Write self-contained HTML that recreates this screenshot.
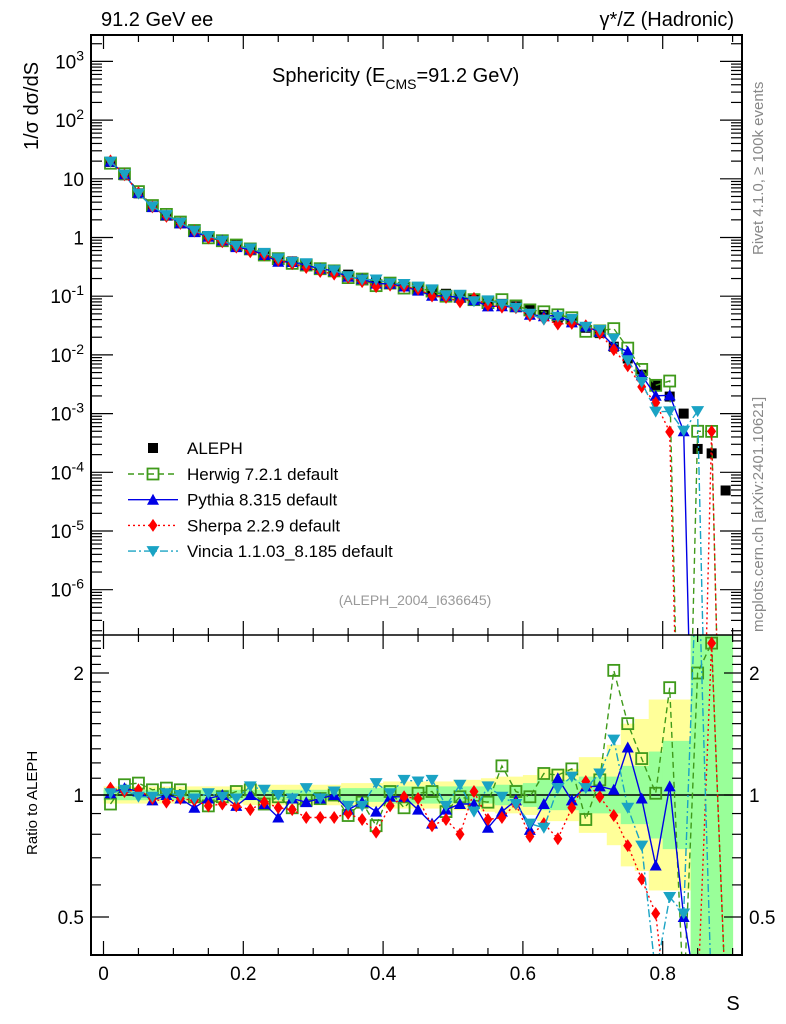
<!DOCTYPE html>
<html>
<head>
<meta charset="utf-8">
<style>
html,body{margin:0;padding:0;background:#fff;}
svg{display:block;font-family:"Liberation Sans",Arial,sans-serif;}
</style>
</head>
<body>
<svg id="chart" width="786" height="1024" viewBox="0 0 786 1024" xmlns="http://www.w3.org/2000/svg">
  <defs>
    <clipPath id="clipMain"><rect x="91" y="35" width="651" height="600"/></clipPath>
    <clipPath id="clipRatio"><rect x="91" y="635" width="651" height="320"/></clipPath>
  </defs>
  <rect x="0" y="0" width="786" height="1024" fill="#fff"/>
  <g id="bands" clip-path="url(#clipRatio)"></g>
  <g id="ratioMarks" clip-path="url(#clipRatio)"></g>
  <g id="mainMarks" clip-path="url(#clipMain)"></g>
  <g id="axes"></g>

  <text x="101" y="26" font-size="20">91.2 GeV ee</text>
  <text x="734" y="26" font-size="20" text-anchor="end">γ*/Z (Hadronic)</text>
  <text x="272" y="82" font-size="20">Sphericity (E<tspan font-size="14" dy="7">CMS</tspan><tspan dy="-7">=91.2 GeV)</tspan></text>
  <text transform="translate(38,150) rotate(-90)" font-size="20">1/σ  dσ/dS</text>
  <text transform="translate(37,855) rotate(-90)" font-size="15">Ratio to ALEPH</text>
  <text x="733" y="1010" font-size="20" text-anchor="middle">S</text>
  <text transform="translate(763,255) rotate(-90)" font-size="15" fill="#888">Rivet 4.1.0, ≥ 100k events</text>
  <text transform="translate(763,632) rotate(-90)" font-size="15" fill="#888">mcplots.cern.ch [arXiv:2401.10621]</text>
  <text x="415" y="605" font-size="14" fill="#999" text-anchor="middle">(ALEPH_2004_I636645)</text>

  <g id="legend"></g>
</svg>
<script>
const bins = [0.01,0.03,0.05,0.07,0.09,0.11,0.13,0.15,0.17,0.19,0.21,0.23,0.25,0.27,0.29,0.31,0.33,0.35,0.37,0.39,0.41,0.43,0.45,0.47,0.49,0.51,0.53,0.55,0.57,0.59,0.61,0.63,0.65,0.67,0.69,0.71,0.73,0.75,0.77,0.79,0.81,0.83,0.85,0.87,0.89];
const alephValues = [19.4,11.5,5.65,3.4,2.38,1.78,1.33,1.05,0.89,0.73,0.62,0.53,0.44,0.39,0.35,0.30,0.27,0.233,0.204,0.18,0.164,0.148,0.135,0.12,0.11,0.1,0.09,0.081,0.074,0.067,0.059,0.048,0.043,0.037,0.029,0.0235,0.0138,0.0087,0.0046,0.003,0.00195,0.001,0.00025,0.00021,0.000049];
const herwigRatio = [0.95,1.06,1.07,1.03,1.04,1.03,0.99,0.94,0.99,1.02,1.03,0.95,0.99,0.93,0.97,0.98,1.0,0.89,0.96,0.84,1.02,0.93,1.01,1.02,0.91,0.99,0.97,0.96,1.18,1.02,0.99,1.13,1.12,1.16,0.87,1.09,2.03,1.5,1.23,1.01,1.84,0,2.0,2.37,0];
const pythiaRatio = [1.01,1.04,1.02,0.97,1.0,0.98,0.93,0.98,1.0,0.94,1.0,0.95,0.88,0.98,0.96,0.98,1.0,0.92,0.96,0.91,0.99,0.99,0.92,0.85,0.92,0.95,0.95,0.83,0.91,0.97,0.82,0.95,1.1,0.97,1.05,1.05,1.03,1.31,0.98,0.67,1.05,0.5,0,0,0];
const sherpaRatio = [1.04,1.02,1.03,0.98,0.96,0.98,0.97,0.94,0.95,0.94,0.92,0.96,0.93,0.92,0.88,0.88,0.88,0.9,0.87,0.81,0.94,0.99,0.98,0.84,0.87,0.8,1.02,0.87,0.88,0.95,0.79,0.85,0.78,0.93,1.08,0.99,0.89,0.75,0.62,0.51,0.25,0,0,2.37,0];
const vinciaRatio = [1.01,1.03,0.99,0.99,1.01,1.0,0.98,1.01,0.99,0.98,1.05,1.03,1.0,0.98,1.04,0.98,1.02,0.94,0.94,1.07,1.01,1.09,1.08,1.09,0.94,1.06,0.91,1.05,0.99,0.95,0.85,0.83,1.04,1.11,1.04,1.13,1.37,0.93,0.75,0.36,0.56,0.51,4.4,0,0];
const yellowBand = [1.05,1.05,1.05,1.05,1.05,1.05,1.05,1.05,1.05,1.05,1.06,1.06,1.06,1.06,1.06,1.06,1.06,1.07,1.07,1.07,1.08,1.08,1.08,1.08,1.08,1.09,1.09,1.1,1.11,1.11,1.12,1.16,1.16,1.16,1.24,1.24,1.33,1.5,1.54,1.72,1.72,1.72,4,4,4];
const greenBand = [1.03,1.03,1.03,1.03,1.03,1.03,1.03,1.03,1.03,1.03,1.03,1.03,1.03,1.03,1.03,1.03,1.03,1.04,1.04,1.04,1.05,1.05,1.05,1.05,1.05,1.05,1.05,1.05,1.06,1.06,1.07,1.09,1.09,1.09,1.11,1.11,1.11,1.18,1.18,1.28,1.36,1.36,4,4,4];
const mainTickLabels = ["10^3","10^2","10","1","10^-1","10^-2","10^-3","10^-4","10^-5","10^-6"];
const xTickLabels = ["0","0.2","0.4","0.6","0.8"];
const ratioTickLabels = ["0.5","1","2"];

const NS="http://www.w3.org/2000/svg";
const X0=103.5, XS=699;
function px(s){return X0+XS*s;}
function py(v){return 237.5-58.7*Math.log10(v);}
function ry(r){return 795-405.3*Math.log10(r);}
function mk(tag,attrs,parent){const e=document.createElementNS(NS,tag);for(const k in attrs)e.setAttribute(k,attrs[k]);parent.appendChild(e);return e;}

const series=[
 {name:"herwig",ratio:herwigRatio,color:"#3f9a1a",dash:"6,4",marker:"osquare",label:"Herwig 7.2.1 default"},
 {name:"pythia",ratio:pythiaRatio,color:"#0000e6",dash:"",marker:"utri",label:"Pythia 8.315 default"},
 {name:"sherpa",ratio:sherpaRatio,color:"#ff0000",dash:"2,3",marker:"diamond",label:"Sherpa 2.2.9 default"},
 {name:"vincia",ratio:vinciaRatio,color:"#1aa3c4",dash:"8,3,2,3",marker:"dtri",label:"Vincia 1.1.03_8.185 default"}
];

function marker(g,type,x,y,color,sz){
 let e;
 if(type==="square") e=mk("rect",{x:x-5,y:y-5,width:10,height:10,fill:"#000"},g);
 else if(type==="osquare") e=mk("rect",{x:x-5.5,y:y-5.5,width:11,height:11,fill:"none",stroke:color,"stroke-width":1.8},g);
 else if(type==="utri") e=mk("polygon",{points:`${x-6},${y+5} ${x+6},${y+5} ${x},${y-6}`,fill:color},g);
 else if(type==="dtri") e=mk("polygon",{points:`${x-6.5},${y-5} ${x+6.5},${y-5} ${x},${y+6}`,fill:color},g);
 else if(type==="diamond") e=mk("polygon",{points:`${x},${y-6.5} ${x+4.5},${y} ${x},${y+6.5} ${x-4.5},${y}`,fill:color},g);
 return e;
}

// Bands
const bandG=document.getElementById("bands");
for(let i=0;i<bins.length;i++){
 const x1=px(bins[i]-0.01), x2=px(bins[i]+0.01);
 const yb=mk("rect",{x:x1,y:ry(yellowBand[i]),width:x2-x1+0.5,height:ry(1/yellowBand[i])-ry(yellowBand[i]),fill:"#ffff99"},bandG);
 
 
}
for(let i=0;i<bins.length;i++){
 const x1=px(bins[i]-0.01), x2=px(bins[i]+0.01);
 const gb=mk("rect",{x:x1,y:ry(greenBand[i]),width:x2-x1+0.5,height:ry(1/greenBand[i])-ry(greenBand[i]),fill:"#99ff99"},bandG);
 
 
}

// Ratio panel
const rG=document.getElementById("ratioMarks");
mk("line",{x1:91,y1:ry(1),x2:742,y2:ry(1),stroke:"#000","stroke-width":1.5},rG);
for(const s of series){
 const g=mk("g",{},rG);
 
 
 let pts=[];
 for(let i=0;i<bins.length;i++){
  const r=s.ratio[i];
  pts.push([px(bins[i]), r>0?ry(r):1000]);
 }
 let d="";
 pts.forEach((p,i)=>{d+=(i?"L":"M")+p[0].toFixed(1)+","+p[1].toFixed(1);});
 mk("path",{d:d,fill:"none",stroke:s.color,"stroke-width":1.4,"stroke-dasharray":s.dash},g);
 for(let i=0;i<bins.length;i++){
  if(s.ratio[i]>0){
   const m=marker(g,s.marker,pts[i][0],pts[i][1],s.color);
   
   
  }
 }
}

// Main panel
const mG=document.getElementById("mainMarks");
const aG=mk("g",{},mG);


for(let i=0;i<bins.length;i++){
 const m=marker(aG,"square",px(bins[i]),py(alephValues[i]),"#000");
 
 
}
for(const s of series){
 const g=mk("g",{},mG);
 
 
 let d="";
 for(let i=0;i<bins.length;i++){
  const v=alephValues[i]*s.ratio[i];
  const y=v>0?py(v):1000;
  d+=(i?"L":"M")+px(bins[i]).toFixed(1)+","+y.toFixed(1);
 }
 mk("path",{d:d,fill:"none",stroke:s.color,"stroke-width":1.4,"stroke-dasharray":s.dash},g);
 for(let i=0;i<bins.length;i++){
  const v=alephValues[i]*s.ratio[i];
  if(v>0){
   const m=marker(g,s.marker,px(bins[i]),py(v),s.color);
   
   
  }
 }
}

// Axes
const ax=document.getElementById("axes");
mk("rect",{x:91,y:35,width:651,height:920,fill:"none",stroke:"#000","stroke-width":2},ax);
mk("line",{x1:91,y1:635,x2:742,y2:635,stroke:"#000","stroke-width":1.5},ax);
// x ticks
for(let k=0;k<=18;k++){
 const s=k*0.05, x=px(s);
 if(x>742) break;
 const major=(k%4===0), len=major?14:7;
 mk("line",{x1:x,y1:955,x2:x,y2:955-len,stroke:"#000","stroke-width":1.2},ax);
 mk("line",{x1:x,y1:635,x2:x,y2:635-len,stroke:"#000","stroke-width":1.2},ax);
 mk("line",{x1:x,y1:635,x2:x,y2:635+len,stroke:"#000","stroke-width":1.2},ax);
 mk("line",{x1:x,y1:35,x2:x,y2:35+len,stroke:"#000","stroke-width":1.2},ax);
}
xTickLabels.forEach((lab,k)=>{
 const t=mk("text",{x:px(k*0.2),y:980,"font-size":19,"text-anchor":"middle"},ax);
 t.textContent=lab;
 
 
});
// main y ticks
for(let e=-7;e<=3;e++){
 for(let m=1;m<10;m++){
  const v=m*Math.pow(10,e), y=py(v);
  if(y<35||y>635) continue;
  const len=m===1?22:11;
  mk("line",{x1:91,y1:y,x2:91+len,y2:y,stroke:"#000","stroke-width":1.2},ax);
  mk("line",{x1:742,y1:y,x2:742-len,y2:y,stroke:"#000","stroke-width":1.2},ax);
 }
}
mainTickLabels.forEach((lab,k)=>{
 const e=3-k, y=py(Math.pow(10,e))+7;
 const t=mk("text",{x:84,y:y,"font-size":19,"text-anchor":"end"},ax);
 
 
 if(lab.indexOf("^")>=0){
  const parts=lab.split("^");
  const a=mk("tspan",{},t);a.textContent=parts[0];
  const b=mk("tspan",{dy:-8,"font-size":14},t);b.textContent=parts[1];
 } else t.textContent=lab;
});
// ratio ticks
const rticks=[0.5,0.6,0.7,0.8,0.9,1,1.1,1.2,1.3,1.4,1.5,1.6,1.7,1.8,1.9,2,2.1,2.2,2.3,2.4];
rticks.forEach(r=>{
 const y=ry(r), major=(r===0.5||r===1||r===2), len=major?18:10;
 mk("line",{x1:91,y1:y,x2:91+len,y2:y,stroke:"#000","stroke-width":1.2},ax);
 mk("line",{x1:742,y1:y,x2:742-len,y2:y,stroke:"#000","stroke-width":1.2},ax);
});
ratioTickLabels.forEach(lab=>{
 const y=ry(parseFloat(lab))+7;
 const t=mk("text",{x:84,y:y,"font-size":19,"text-anchor":"end"},ax);
 t.textContent=lab;
 
 
 const t2=mk("text",{x:749,y:y,"font-size":19},ax);
 t2.textContent=lab;
 
 
});

// Legend
const lg=document.getElementById("legend");
const ae=mk("g",{},lg);


marker(ae,"square",153,448,"#000");
const at=mk("text",{x:187,y:454,"font-size":17},ae);at.textContent="ALEPH";
series.forEach((s,k)=>{
 const y=474+k*25.7;
 const g=mk("g",{},lg);
 
 
 mk("line",{x1:128,y1:y,x2:178,y2:y,stroke:s.color,"stroke-width":1.4,"stroke-dasharray":s.dash},g);
 marker(g,s.marker,153,y,s.color);
 const t=mk("text",{x:187,y:y+6,"font-size":17},g);t.textContent=s.label;
});
</script>
</body>
</html>
